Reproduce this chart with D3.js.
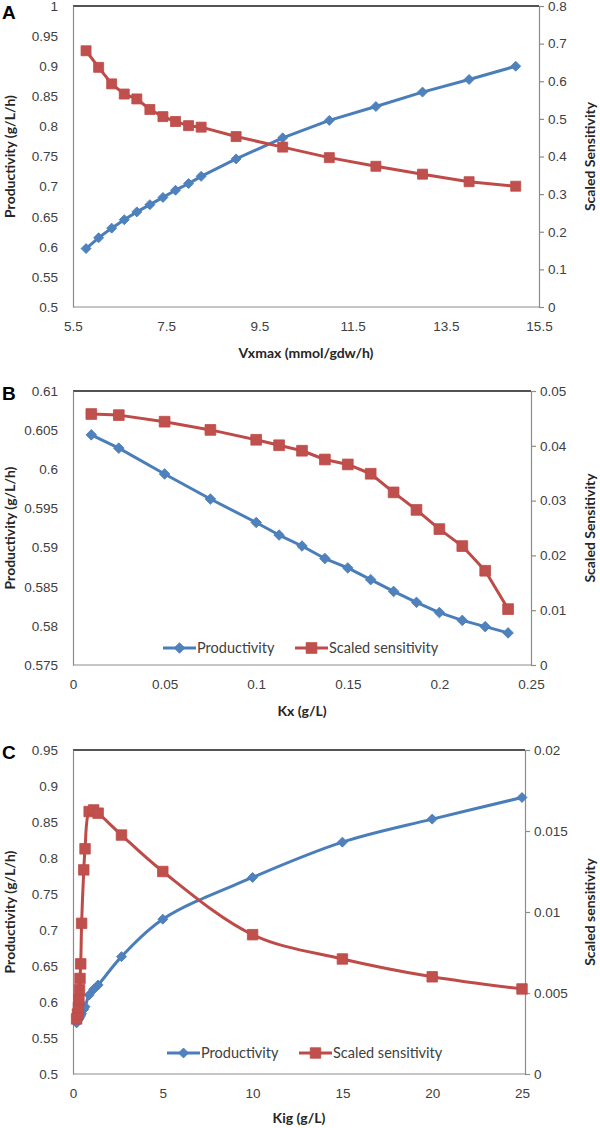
<!DOCTYPE html>
<html>
<head>
<meta charset="utf-8">
<script src="https://cdn.jsdelivr.net/npm/d3@7"></script>
<style>
	body { margin: 0; background: #fff; }
	svg { display: block; font-family: Lato, "Open Sans", sans-serif; }
	.tick text { fill: #404040; font-size: 13.5px; }
	.title { font-weight: bold; font-size: 14px; fill: #262626; }
	.legend { font-size: 14.5px; fill: #404040; }
	.panel { font-family: "Liberation Sans", Arial, sans-serif; font-weight: bold; font-size: 19px; fill: #000; }
</style>
</head>
<body>
<svg id="chart"></svg>
<script>
// ---- data ----
// A: Vxmax
const vxmax = [5.78, 6.05, 6.33, 6.6, 6.87, 7.15, 7.43, 7.7, 7.98, 8.25, 9, 10, 11, 12, 13, 14, 15];
const prodA = [0.597, 0.615, 0.631, 0.645, 0.658, 0.670, 0.682, 0.694, 0.705, 0.717, 0.746, 0.781, 0.810, 0.833, 0.857, 0.878, 0.900];
const sensA = [0.681, 0.637, 0.593, 0.566, 0.553, 0.525, 0.506, 0.493, 0.482, 0.478, 0.453, 0.425, 0.397, 0.374, 0.353, 0.333, 0.321];

// B: Kx
const kx = [0.01, 0.025, 0.05, 0.075, 0.1, 0.1125, 0.125, 0.1375, 0.15, 0.1625, 0.175, 0.1875, 0.2, 0.2125, 0.225, 0.2375];
const prodB = [0.6044, 0.6027, 0.5994, 0.5962, 0.5932, 0.5916, 0.5902, 0.5886, 0.5874, 0.5859, 0.5844, 0.5830, 0.5817, 0.5807, 0.5799, 0.5791];
const sensB = [0.0458, 0.0456, 0.0444, 0.0429, 0.0411, 0.0401, 0.0391, 0.0375, 0.0366, 0.0349, 0.0315, 0.0283, 0.0248, 0.0217, 0.0172, 0.0102];

// C: Kig
const kig = [0.2, 0.25, 0.3, 0.33, 0.36, 0.39, 0.43, 0.48, 0.6, 0.67, 0.9, 1.15, 1.4, 2.7, 5, 10, 15, 20, 25];
const prodC = [0.571, 0.574, 0.576, 0.577, 0.579, 0.580, 0.582, 0.584, 0.590, 0.5935, 0.6097, 0.6176, 0.6236, 0.663, 0.715, 0.773, 0.822, 0.854, 0.884];
const sensC = [0.0034, 0.0037, 0.0041, 0.0046, 0.0052, 0.0059, 0.0068, 0.0093, 0.0126, 0.0139, 0.0162, 0.0163, 0.0161, 0.01475, 0.0125, 0.0086, 0.0071, 0.006, 0.00525];

// tick values
const ticksAx = [5.5, 7.5, 9.5, 11.5, 13.5, 15.5];
const ticksAl = [0.5, 0.55, 0.6, 0.65, 0.7, 0.75, 0.8, 0.85, 0.9, 0.95, 1];
const ticksAr = [0, 0.1, 0.2, 0.3, 0.4, 0.5, 0.6, 0.7, 0.8];
const ticksBx = [0, 0.05, 0.1, 0.15, 0.2, 0.25];
const ticksBl = [0.575, 0.58, 0.585, 0.59, 0.595, 0.6, 0.605, 0.61];
const ticksBr = [0, 0.01, 0.02, 0.03, 0.04, 0.05];
const ticksCx = [0, 5, 10, 15, 20, 25];
const ticksCl = [0.5, 0.55, 0.6, 0.65, 0.7, 0.75, 0.8, 0.85, 0.9, 0.95];
const ticksCr = [0, 0.005, 0.01, 0.015, 0.02];

const blue = '#4a7ebb', blueFill = '#4f81bd';
const red = '#be4b48', redFill = '#c0504d';

let w = 600;
let h = 1128;

let svg = d3.select('#chart')
	.attr('width', w)
	.attr('height', h);

let fmt = d => String(+d.toFixed(4));

function makePanel(p) {
	let g = svg.append('g');

	let xScale = d3.scaleLinear()
		.domain(d3.extent(p.xTicks))
		.range([p.left, p.xEnd]);
	let yL = d3.scaleLinear()
		.domain(d3.extent(p.lTicks))
		.range([p.bottom, p.top]);
	let yR = d3.scaleLinear()
		.domain(d3.extent(p.rTicks))
		.range([p.bottom, p.top]);

	//plot area top border
	g.append('line')
		.attr('x1', p.left).attr('x2', p.right)
		.attr('y1', p.top).attr('y2', p.top)
		.attr('stroke', '#1a1a1a')
		.attr('stroke-width', 1.5);

	//AXES
	let xAxis = d3.axisBottom(xScale).tickValues(p.xTicks).tickFormat(fmt).tickSize(0).tickPadding(14);
	let gx = g.append('g')
		.attr('transform', `translate(0, ${p.bottom})`)
		.call(xAxis);
	gx.select('.domain').remove();
	g.append('line')
		.attr('x1', p.left).attr('x2', p.right)
		.attr('y1', p.bottom).attr('y2', p.bottom)
		.attr('stroke', '#8c8c8c').attr('stroke-width', 1.2);

	let gl = g.append('g')
		.attr('transform', `translate(${p.left}, 0)`)
		.call(d3.axisLeft(yL).tickValues(p.lTicks).tickFormat(fmt).tickSize(0).tickPadding(15));
	gl.select('.domain').attr('stroke', '#8c8c8c').attr('stroke-width', 1.2);

	let gr = g.append('g')
		.attr('transform', `translate(${p.right}, 0)`)
		.call(d3.axisRight(yR).tickValues(p.rTicks).tickFormat(fmt).tickSizeOuter(0).tickSize(5).tickPadding(4));
	gr.selectAll('.domain, .tick line').attr('stroke', '#8c8c8c').attr('stroke-width', 1.2);

	//lines
	let lineL = d3.line()
		.x((d, i) => xScale(p.x[i]))
		.y(d => yL(d))
		.curve(p.curve);
	let lineR = d3.line()
		.x((d, i) => xScale(p.x[i]))
		.y(d => yR(d))
		.curve(p.curve);

	g.append('path')
		.attr('d', lineL(p.prod))
		.attr('fill', 'none')
		.attr('stroke', blue)
		.attr('stroke-width', 3)
		.attr('stroke-linejoin', 'round');

	g.selectAll('.dia')
		.data(p.prod)
		.enter()
		.append('path')
		.attr('d', d3.symbol(d3.symbolSquare, p.diaSize)())
		.attr('transform', (d, i) => `translate(${xScale(p.x[i])}, ${yL(d)}) rotate(45)`)
		.attr('fill', blueFill)
		.attr('stroke', blue)
		.attr('stroke-width', 0.8);

	g.append('path')
		.attr('d', lineR(p.sens))
		.attr('fill', 'none')
		.attr('stroke', red)
		.attr('stroke-width', 3)
		.attr('stroke-linejoin', 'round');

	g.selectAll('.sq')
		.data(p.sens)
		.enter()
		.append('path')
		.attr('d', d3.symbol(d3.symbolSquare, p.sqSize)())
		.attr('transform', (d, i) => `translate(${xScale(p.x[i])}, ${yR(d)})`)
		.attr('fill', redFill)
		.attr('stroke', red)
		.attr('stroke-width', 0.8);

	//LABELS
	g.append('text')
		.attr('class', 'panel')
		.attr('x', 2)
		.attr('y', p.top + p.letterDy)
		.text(p.letter);

	g.append('text')
		.attr('class', 'title')
		.attr('x', (p.left + p.right) / 2)
		.attr('y', p.bottom + p.xTitleDy)
		.style('text-anchor', 'middle')
		.text(p.xTitle);

	g.append('text')
		.attr('class', 'title')
		.attr('transform', `translate(15, ${(p.top + p.bottom) / 2}) rotate(-90)`)
		.style('text-anchor', 'middle')
		.text(p.lTitle);

	g.append('text')
		.attr('class', 'title')
		.attr('transform', `translate(595, ${(p.top + p.bottom) / 2}) rotate(-90)`)
		.style('text-anchor', 'middle')
		.text(p.rTitle);

	//legend
	if (p.legendY) {
		let ly = p.legendY;
		let lg = g.append('g');
		lg.append('line')
			.attr('x1', p.legendX).attr('x2', p.legendX + 33)
			.attr('y1', ly).attr('y2', ly)
			.attr('stroke', blue).attr('stroke-width', 3);
		lg.append('path')
			.attr('d', d3.symbol(d3.symbolSquare, p.diaSize)())
			.attr('transform', `translate(${p.legendX + 16.5}, ${ly}) rotate(45)`)
			.attr('fill', blueFill).attr('stroke', blue).attr('stroke-width', 0.8);
		lg.append('text')
			.attr('class', 'legend')
			.attr('x', p.legendX + 34)
			.attr('y', ly)
			.attr('dy', '0.35em')
			.text('Productivity');

		let rx = p.legendX + 132;
		lg.append('line')
			.attr('x1', rx).attr('x2', rx + 33)
			.attr('y1', ly).attr('y2', ly)
			.attr('stroke', red).attr('stroke-width', 3);
		lg.append('path')
			.attr('d', d3.symbol(d3.symbolSquare, p.sqSize)())
			.attr('transform', `translate(${rx + 16.5}, ${ly})`)
			.attr('fill', redFill).attr('stroke', red).attr('stroke-width', 0.8);
		lg.append('text')
			.attr('class', 'legend')
			.attr('x', rx + 34)
			.attr('y', ly)
			.attr('dy', '0.35em')
			.text('Scaled sensitivity');
	}
}

makePanel({
	letter: 'A', letterDy: 13,
	top: 6, bottom: 307, left: 73, right: 539, xEnd: 539,
	x: vxmax, prod: prodA, sens: sensA,
	xTicks: ticksAx, lTicks: ticksAl, rTicks: ticksAr,
	xTitle: 'Vxmax (mmol/gdw/h)', xTitleDy: 51,
	lTitle: 'Productivity (g/L/h)', rTitle: 'Scaled Sensitivity',
	curve: d3.curveLinear, diaSize: 50, sqSize: 100,
	legendY: null
});

makePanel({
	letter: 'B', letterDy: 9,
	top: 391, bottom: 665, left: 73, right: 531, xEnd: 531,
	x: kx, prod: prodB, sens: sensB,
	xTicks: ticksBx, lTicks: ticksBl, rTicks: ticksBr,
	xTitle: 'Kx (g/L)', xTitleDy: 51,
	lTitle: 'Productivity (g/L/h)', rTitle: 'Scaled Sensitivity',
	curve: d3.curveLinear, diaSize: 56, sqSize: 115,
	legendY: 648, legendX: 163
});

makePanel({
	letter: 'C', letterDy: 9,
	top: 750, bottom: 1074, left: 73, right: 525, xEnd: 522,
	x: kig, prod: prodC, sens: sensC,
	xTicks: ticksCx, lTicks: ticksCl, rTicks: ticksCr,
	xTitle: 'Kig (g/L)', xTitleDy: 49,
	lTitle: 'Productivity (g/L/h)', rTitle: 'Scaled sensitivity',
	curve: d3.curveCatmullRom.alpha(0.5), diaSize: 50, sqSize: 110,
	legendY: 1053, legendX: 167
});
</script>
</body>
</html>
